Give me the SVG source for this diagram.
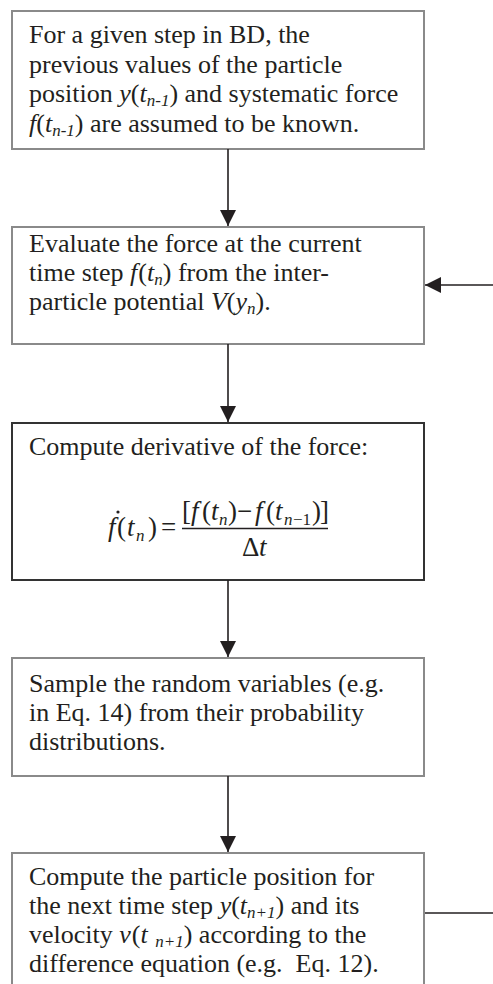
<svg xmlns="http://www.w3.org/2000/svg" width="493" height="984" viewBox="0 0 493 984">
<defs>
<marker id="ah" viewBox="0 0 16 16" refX="16" refY="8" markerWidth="16" markerHeight="16" markerUnits="userSpaceOnUse" orient="auto">
<path d="M0,0 L16,8 L0,16 Z" fill="#231f20"/>
</marker>
<style>
.box{fill:#fff;stroke:#8a8a8a;stroke-width:2}
.boxd{fill:#fff;stroke:#333;stroke-width:2}
.t{font-family:"Liberation Serif","Times New Roman",serif;font-size:26px;fill:#231f20;white-space:pre}
.i{font-style:italic}
.s{font-size:17px;font-style:italic}
.m{font-family:"Liberation Serif","Times New Roman",serif;font-size:27px;fill:#231f20}
.mi{font-family:"Liberation Serif","Times New Roman",serif;font-size:27px;font-style:italic;fill:#231f20}
.ms{font-family:"Liberation Serif","Times New Roman",serif;font-size:17px;font-style:italic;fill:#231f20}
.mu{font-family:"Liberation Serif","Times New Roman",serif;font-size:17px;fill:#231f20}
.c{stroke:#231f20;stroke-width:1.6;fill:none}
</style>
</defs>
<rect width="493" height="984" fill="#fff"/>
<g id="n1">
<rect class="box" x="12" y="11" width="412" height="138"/>
<text class="t" x="29" y="43">For a given step in BD, the</text>
<text class="t" x="29" y="73">previous values of the particle</text>
<text class="t" x="29" y="102">position <tspan class="i">y</tspan>(<tspan class="i">t</tspan><tspan class="s" dy="4">n-1</tspan><tspan dy="-4">) and systematic force</tspan></text>
<text class="t" x="29" y="132"><tspan class="i">f</tspan>(<tspan class="i">t</tspan><tspan class="s" dy="4">n-1</tspan><tspan dy="-4">) are assumed to be known.</tspan></text>
</g>
<g id="n2">
<rect class="box" x="12" y="227" width="412" height="117"/>
<text class="t" x="29" y="252">Evaluate the force at the current</text>
<text class="t" x="29" y="281">time step <tspan class="i">f</tspan><tspan dx="1">(</tspan><tspan class="i">t</tspan><tspan class="s" dy="4">n</tspan><tspan dy="-4">) from the inter-</tspan></text>
<text class="t" x="29" y="310">particle potential <tspan class="i">V</tspan>(<tspan class="i">y</tspan><tspan class="s" dy="4">n</tspan><tspan dy="-4">).</tspan></text>
</g>
<g id="n3">
<rect class="boxd" x="12" y="423" width="412" height="157"/>
<text class="t" x="29" y="455">Compute derivative of the force:</text>
<g id="formula">
<text class="mi" x="108" y="536">f</text>
<circle cx="118" cy="512" r="1.6" fill="#231f20"/>
<text class="m" x="117" y="536">(</text>
<text class="mi" x="127" y="536">t</text>
<text class="ms" x="136" y="541">n</text>
<text class="m" x="148" y="536">)</text>
<text class="m" x="161" y="536">=</text>
<text class="m" x="182" y="520">[</text>
<text class="mi" x="191" y="520">f</text>
<text class="m" x="202" y="520">(</text>
<text class="mi" x="211" y="520">t</text>
<text class="ms" x="219" y="525">n</text>
<text class="m" x="228" y="520">)</text>
<text class="m" x="237" y="520">−</text>
<text class="mi" x="255" y="520">f</text>
<text class="m" x="266" y="520">(</text>
<text class="mi" x="275" y="520">t</text>
<text class="ms" x="284" y="525">n</text>
<text class="mu" x="293" y="525">−1</text>
<text class="m" x="312" y="520">)</text>
<text class="m" x="320" y="520">]</text>
<line x1="182" y1="528.5" x2="328" y2="528.5" stroke="#231f20" stroke-width="1.3"/>
<text class="m" x="242" y="556">Δ</text>
<text class="mi" x="259" y="556">t</text>
</g>
</g>
<g id="n4">
<rect class="box" x="12" y="658" width="412" height="118"/>
<text class="t" x="29" y="692">Sample the random variables (e.g.</text>
<text class="t" x="29" y="721">in Eq. 14) from their probability</text>
<text class="t" x="29" y="750">distributions.</text>
</g>
<g id="n5">
<rect class="box" x="12" y="853" width="412" height="150"/>
<text class="t" x="29" y="885">Compute the particle position for</text>
<text class="t" x="29" y="914">the next time step <tspan class="i">y</tspan>(<tspan class="i">t</tspan><tspan class="s" dy="4">n+1</tspan><tspan dy="-4">) and its</tspan></text>
<text class="t" x="29" y="943">velocity <tspan class="i">v</tspan><tspan dx="1">(</tspan><tspan class="i">t</tspan><tspan dx="1"> </tspan><tspan class="s" dy="4">n+1</tspan><tspan dy="-4">) according to the</tspan></text>
<text class="t" x="29" y="972">difference equation (e.g.  Eq. 12).</text>
</g>
<g id="connectors">
<line class="c" x1="228" y1="149" x2="228" y2="226" marker-end="url(#ah)"/>
<line class="c" x1="228" y1="344" x2="228" y2="422" marker-end="url(#ah)"/>
<line class="c" x1="228" y1="580" x2="228" y2="657" marker-end="url(#ah)"/>
<line class="c" x1="228" y1="776" x2="228" y2="852" marker-end="url(#ah)"/>
<line class="c" x1="425" y1="913" x2="493" y2="913"/>
<line class="c" x1="493" y1="285" x2="425" y2="285" marker-end="url(#ah)"/>
</g>
</svg>
